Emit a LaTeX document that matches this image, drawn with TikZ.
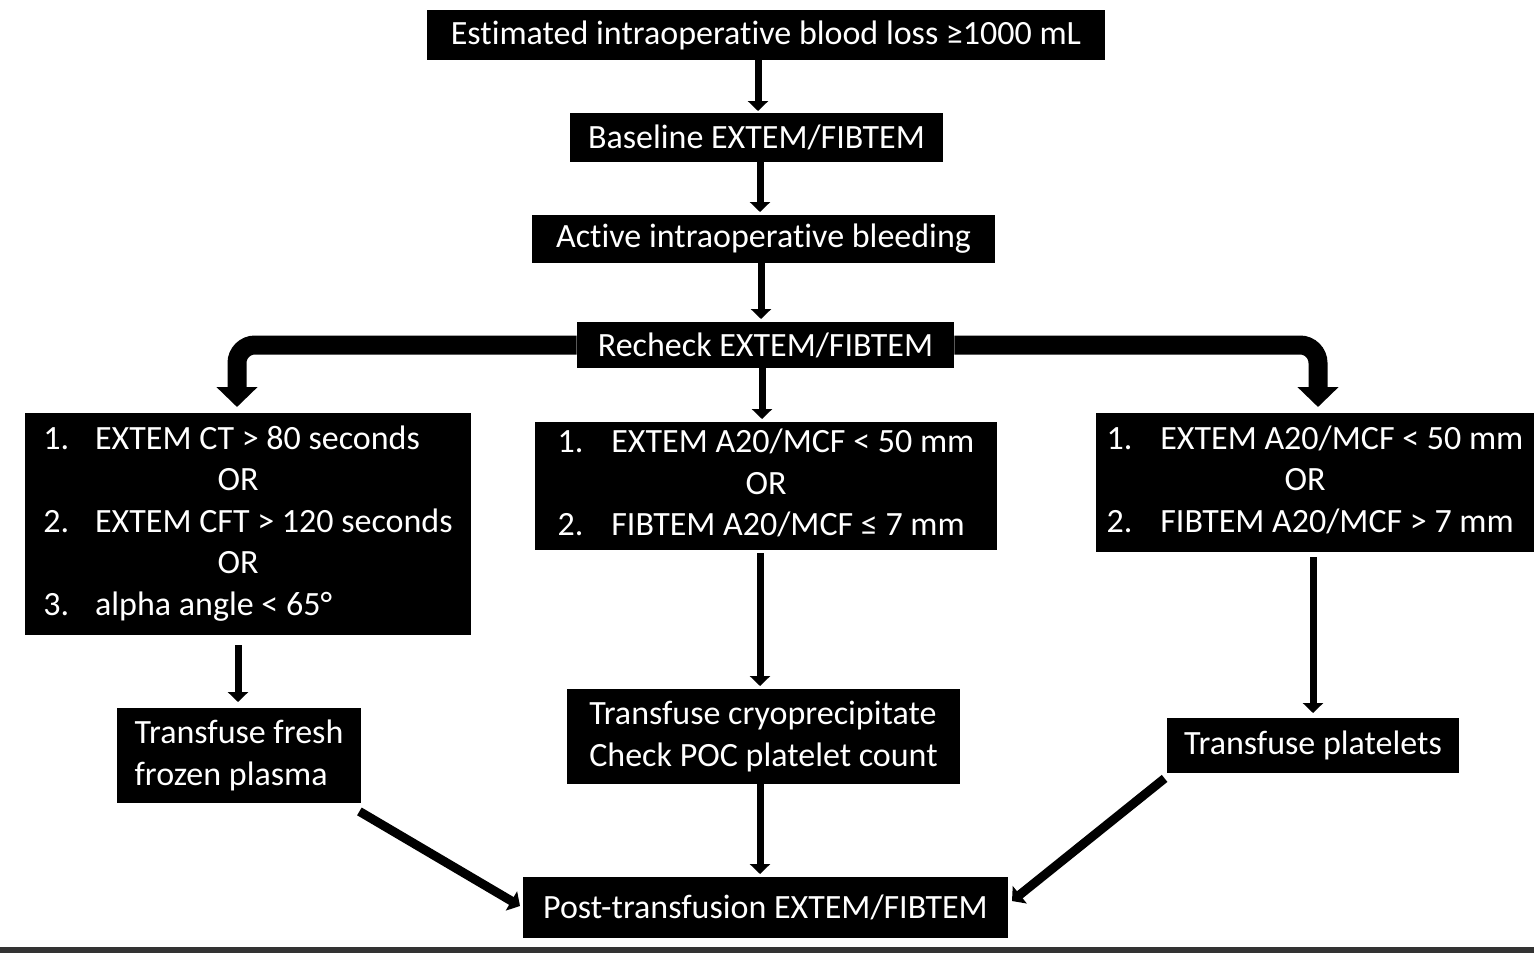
\documentclass[tikz,border=0pt]{standalone}
\usepackage{fontspec}
\setmainfont{Carlito}[Ligatures={NoCommon}]
\usetikzlibrary{arrows.meta,calc}
\tikzset{
  box/.style={fill=black, text=white, inner sep=0pt, font=\fontsize{17}{20.7}\selectfont},
  thin/.style={line width=3.5pt, -{Triangle[width=10pt,length=5pt]}},
  diag/.style={line width=4.5pt, -{Triangle[width=11pt,length=5pt]}},
  big/.style={line width=9.5pt, rounded corners=9pt, -{Triangle[width=20pt,length=10pt]}},
}
\begin{document}
\begin{tikzpicture}[x=0.5pt,y=-0.5pt]
\useasboundingbox (0,0) rectangle (1534,953);
\fill[white] (0,0) rectangle (1534,953);
\fill[black!80] (0,947) rectangle (1534,953);

\node[box, minimum width=339pt, minimum height=25pt] (top) at (766,35) {\raisebox{-1pt}{Estimated intraoperative blood loss ≥1000 mL}};
\node[box, minimum width=186.5pt, minimum height=24.5pt] (base) at (756.5,137.5) {Baseline EXTEM/FIBTEM};
\node[box, minimum width=231.5pt, minimum height=24pt] (active) at (763.5,239) {\raisebox{-1pt}{Active intraoperative bleeding}};
\node[box, minimum width=188.5pt, minimum height=23pt] (recheck) at (765.5,345) {Recheck EXTEM/FIBTEM};

\node[box, minimum width=223pt, minimum height=111pt] (left) at (248,524) {%
\begin{tabular}{@{}l@{\hspace{13pt}}l@{}}
1.&EXTEM CT > 80 seconds\\
\multicolumn{2}{c}{OR\kern10pt}\\
2.&EXTEM CFT > 120 seconds\\
\multicolumn{2}{c}{OR\kern10pt}\\
3.&alpha angle < 65°
\end{tabular}};

\node[box, minimum width=231pt, minimum height=64pt] (mid) at (766,486) {%
\begin{tabular}{@{}l@{\hspace{14pt}}l@{}}
1.&EXTEM A20/MCF < 50 mm\\
\multicolumn{2}{c}{OR}\\
2.&FIBTEM A20/MCF ≤ 7 mm
\end{tabular}};

\node[box, minimum width=219pt, minimum height=69.5pt] (right) at (1315,482.5) {%
\begin{tabular}{@{}l@{\hspace{14pt}}l@{}}
1.&EXTEM A20/MCF < 50 mm\\
\multicolumn{2}{c}{OR\kern10pt}\\
2.&FIBTEM A20/MCF > 7 mm
\end{tabular}};

\node[box, minimum width=122pt, minimum height=47.5pt, align=left] (ffp) at (239,755.5) {Transfuse fresh\\frozen plasma};
\node[box, minimum width=196.5pt, minimum height=47.5pt, align=left] (cryo) at (763.5,736.5) {Transfuse cryoprecipitate\\Check POC platelet count};
\node[box, minimum width=146pt, minimum height=27.5pt] (plate) at (1313,745.5) {Transfuse platelets};
\node[box, minimum width=242.5pt, minimum height=30.5pt] (post) at (765.5,907.5) {Post-transfusion EXTEM/FIBTEM};

\coordinate (lt) at (237,407);
\coordinate (rt) at (1318,407);

\draw[thin] (758,60) -- (758,111);
\draw[thin] (760,162) -- (760,212);
\draw[thin] (761,263) -- (761,319);
\draw[thin] (762,368) -- (762,419);
\draw[big] (recheck.west) -| (lt);
\draw[big] (recheck.east) -| (rt);
\draw[thin] (238,645) -- (238,702);
\draw[thin] (760,553) -- (760,686);
\draw[thin] (1313,557) -- (1313,713);
\draw[thin] (760,784) -- (760,874);
\draw[diag] ($(ffp.south east)+(-2,8)$) -- (520,906);
\draw[diag] ($(plate.south west)+(-2,5)$) -- (1012,901);
\end{tikzpicture}
\end{document}
